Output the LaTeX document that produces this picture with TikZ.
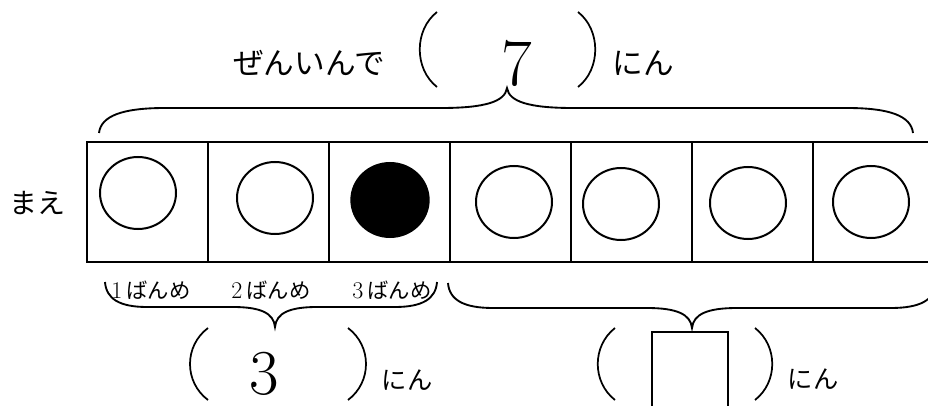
\documentclass[tikz,border=0pt]{standalone}
\usepackage{fontspec}
\newfontfamily\jp{Noto Sans CJK JP}
\usetikzlibrary{shapes.geometric}

\tikzset{
  cell/.style={draw, line width=2pt, minimum width=90.75pt, minimum height=90pt, inner sep=0pt},
  ball/.style={draw, ellipse, line width=1.5pt, minimum width=57pt, minimum height=54pt, inner sep=0pt},
  hit/.style={ball, fill=black, minimum width=58pt, minimum height=55.5pt},
  bracestroke/.style={line width=1.4pt},
  paren/.style={line width=1.3pt},
  word/.style={font=\jp\fontsize{23}{27}\selectfont, inner sep=0pt},
  smallword/.style={font=\jp\fontsize{19}{23}\selectfont, inner sep=0pt},
  ordinal/.style={font=\fontsize{18}{21}\selectfont, inner sep=0pt},
  bignum/.style={font=\fontsize{50}{60}\selectfont, inner sep=0pt},
  answer/.style={draw, line width=1.3pt, minimum width=57pt, minimum height=66pt, inner sep=0pt}
}

% #1 left x, #2 right x, #3 tip x, #4 end y, #5 direction (1 up, -1 down), #6 curl length
\newcommand\drawbrace[6]{%
  \draw[bracestroke] (#1,#4)
    .. controls ({#1+0.03*#6},{#4-(#5)*17}) and ({#1+0.35*#6},{#4-(#5)*25}) .. ({#1+#6},{#4-(#5)*25})
    -- ({#3-#6},{#4-(#5)*25})
    .. controls ({#3-0.35*#6},{#4-(#5)*25}) and ({#3-0.03*#6},{#4-(#5)*31}) .. (#3,{#4-(#5)*45})
    .. controls ({#3+0.03*#6},{#4-(#5)*31}) and ({#3+0.35*#6},{#4-(#5)*25}) .. ({#3+#6},{#4-(#5)*25})
    -- ({#2-#6},{#4-(#5)*25})
    .. controls ({#2-0.35*#6},{#4-(#5)*25}) and ({#2-0.03*#6},{#4-(#5)*17}) .. (#2,#4);}

\begin{document}
\begin{tikzpicture}[x=0.75pt, y=-0.75pt]

\useasboundingbox (0,0) rectangle (928,406);
\clip (0,0) rectangle (928,406);

% row of seats
\foreach \i in {1,...,7}
  \node[cell] (b\i) at ({147.5+121*(\i-1)}, 202) {};

\node[ball] (c1) at (138,193) {};
\node[ball] (c2) at (275,198) {};
\node[hit]  (c3) at (390,200) {};
\node[ball] (c4) at (514,202) {};
\node[ball] (c5) at (621,204) {};
\node[ball] (c6) at (748,203) {};
\node[ball] (c7) at (871,202) {};

\node[word, font=\jp\fontsize{21}{25}\selectfont] (front) at (37,203) {まえ};

% total
\node[word] (all) at (309,63) {ぜんいんで};
\node[bignum] (total) at (517,63) {7};
\node[word] (unitA) at (643,63) {にん};
\draw[paren] (437,12) .. controls (414,30) and (414,69) .. (437,87);
\draw[paren] (578,12) .. controls (601,30) and (601,69) .. (578,87);

\drawbrace{99}{913}{507}{133}{1}{66}

% first three
\node[ordinal] (o1) at (151,290) {1\,{\jp\fontsize{16}{19}\selectfont ばんめ}};
\node[ordinal] (o2) at (271,290) {2\,{\jp\fontsize{16}{19}\selectfont ばんめ}};
\node[ordinal] (o3) at (392,290) {3\,{\jp\fontsize{16}{19}\selectfont ばんめ}};

\drawbrace{105}{437}{275}{282}{-1}{42}

\node[bignum, font=\fontsize{48}{58}\selectfont] (first) at (264,374) {3};
\node[smallword] (unitB) at (407,380) {にん};
\draw[paren] (208,328) .. controls (184,346) and (184,382) .. (208,400);
\draw[paren] (348,328) .. controls (372,346) and (372,382) .. (348,400);

% the rest
\drawbrace{448}{936}{692}{283}{-1}{45}

\node[answer] (rest) at (690,376) {};
\node[smallword] (unitC) at (813,379) {にん};
\draw[paren] (615,328) .. controls (592,346) and (592,382) .. (615,400);
\draw[paren] (755,328) .. controls (778,346) and (778,382) .. (755,400);

\end{tikzpicture}
\end{document}
